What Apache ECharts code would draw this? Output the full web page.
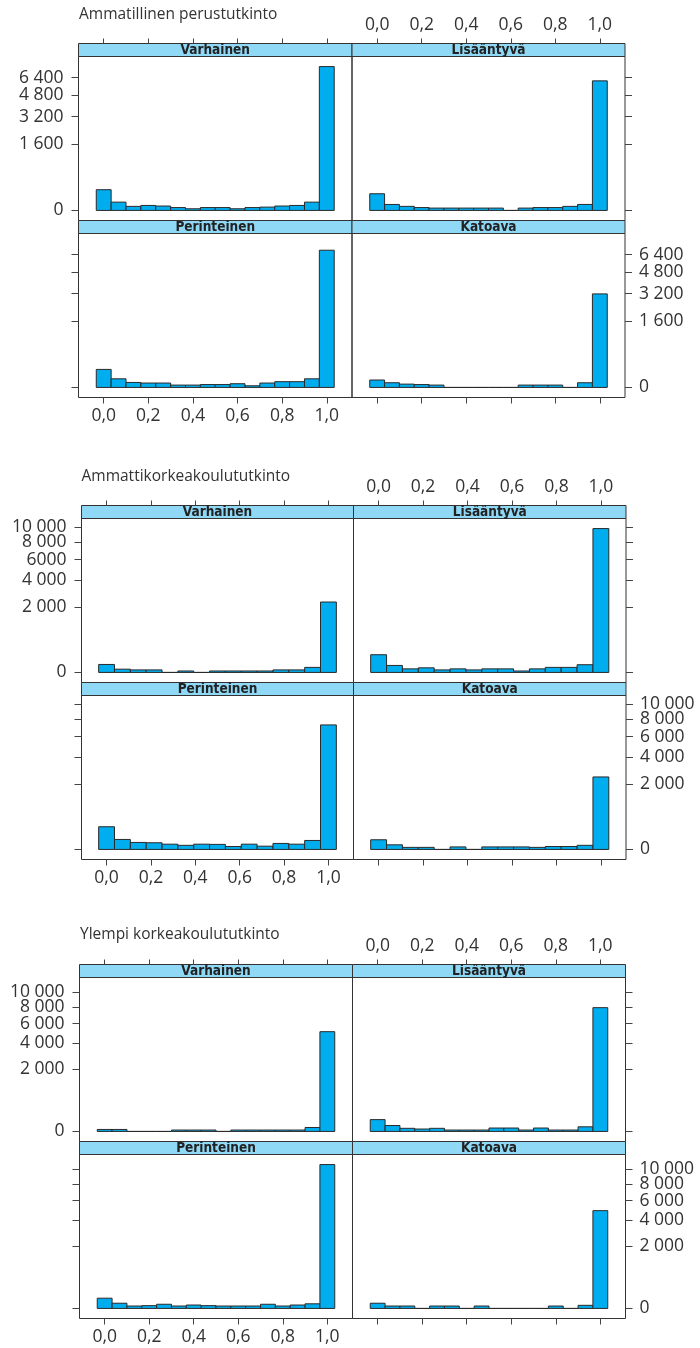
<!DOCTYPE html>
<html><head><meta charset="utf-8">
<script src="https://cdn.jsdelivr.net/npm/echarts@6/dist/echarts.min.js"></script>
<style>html,body{margin:0;padding:0;background:#fff}#c{width:700px;height:1348px}</style>
</head><body><div id="c"></div>
<script>
// ---------- DATA ----------
const groupTitles = ['Ammatillinen perustutkinto', 'Ammattikorkeakoulututkinto', 'Ylempi korkeakoulututkinto'];
const panelNames = ['Varhainen', 'Lisääntyvä', 'Perinteinen', 'Katoava'];

const xTickValues = [0, 0.2, 0.4, 0.6, 0.8, 1.0];
const xTickLabels = ['0,0', '0,2', '0,4', '0,6', '0,8', '1,0'];

// bin centres (share) and bin widths per group
const bins16 = [0, 0.0667, 0.1333, 0.2, 0.2667, 0.3333, 0.4, 0.4667, 0.5333, 0.6, 0.6667, 0.7333, 0.8, 0.8667, 0.9333, 1];
const bins15 = [0, 0.0714, 0.1429, 0.2143, 0.2857, 0.3571, 0.4286, 0.5, 0.5714, 0.6429, 0.7143, 0.7857, 0.8571, 0.9286, 1];
const binWidth16 = 0.0667;
const binWidth15 = 0.0714;

// counts — Ammatillinen perustutkinto
const amm_varhainen   = [156, 25, 6, 9, 7, 3, 1, 3, 3, 1, 3, 4, 7, 9, 25, 7520];
const amm_lisaantyva  = [101, 13, 6, 3, 2, 2, 2, 2, 2, 0, 2, 3, 3, 6, 13, 6100];
const amm_perinteinen = [118, 27, 9, 7, 7, 2, 2, 3, 3, 5, 1, 7, 12, 12, 27, 6840];
const amm_katoava     = [20, 8, 4, 3, 2, 0, 0, 0, 0, 0, 2, 2, 2, 0, 8, 3180];
// counts — Ammattikorkeakoulututkinto
const amk_varhainen   = [30, 5, 3, 3, 0, 1, 0, 1, 1, 1, 1, 3, 3, 12, 2340];
const amk_lisaantyva  = [148, 23, 6, 10, 3, 6, 3, 6, 6, 1, 6, 12, 12, 28, 9770];
const amk_perinteinen = [243, 47, 23, 21, 13, 8, 13, 12, 4, 13, 5, 17, 13, 38, 7320];
const amk_katoava     = [44, 10, 2, 2, 0, 3, 0, 3, 3, 3, 2, 4, 4, 8, 2480];
// counts — Ylempi korkeakoulututkinto
const ykk_varhainen   = [2, 2, 0, 0, 0, 1, 1, 1, 0, 1, 1, 1, 1, 1, 8, 5130];
const ykk_lisaantyva  = [72, 18, 5, 3, 5, 1, 1, 1, 6, 6, 1, 6, 1, 1, 11, 7900];
const ykk_perinteinen = [54, 14, 3, 4, 9, 3, 6, 4, 3, 3, 3, 9, 3, 6, 11, 10670];
const ykk_katoava     = [14, 3, 3, 0, 3, 3, 0, 3, 0, 0, 0, 0, 3, 0, 5, 4930];

// y tick values (counts, square-root scale) and labels
const yTicks1 = [0, 1600, 3200, 4800, 6400];
const yLabels1L = ['0', '1 600', '3 200', '4 800', '6 400'];
const yLabels1R = ['0', '1 600', '3 200', '4 800', '6 400'];
const yTicks2 = [0, 2000, 4000, 6000, 8000, 10000];
const yLabels2L = ['0', '2 000', '4 000', '6000', '8 000', '10 000'];
const yLabels2R = ['0', '2 000', '4 000', '6 000', '8 000', '10 000'];
const yTicks3 = [0, 2000, 4000, 6000, 8000, 10000];
const yLabels3L = ['0', '2 000', '4 000', '6 000', '8 000', '10 000'];
const yLabels3R = ['0', '2 000', '4 000', '6 000', '8 000', '10 000'];

// ---------- ASSEMBLY ----------
const groups = [
  { title: groupTitles[0], bins: bins16, bw: binWidth16, panels: [amm_varhainen, amm_lisaantyva, amm_perinteinen, amm_katoava], yt: yTicks1, yl: yLabels1L, yr: yLabels1R },
  { title: groupTitles[1], bins: bins15, bw: binWidth15, panels: [amk_varhainen, amk_lisaantyva, amk_perinteinen, amk_katoava], yt: yTicks2, yl: yLabels2L, yr: yLabels2R },
  { title: groupTitles[2], bins: bins16, bw: binWidth16, panels: [ykk_varhainen, ykk_lisaantyva, ykk_perinteinen, ykk_katoava], yt: yTicks3, yl: yLabels3L, yr: yLabels3R }
];

// layout (px)
const layout = [
  { titleX: 79, titleY: 15, stripTop: 43.5, L: 78.5, M: 352, R: 625 },
  { titleX: 81.5, titleY: 477, stripTop: 505.5, L: 81.5, M: 353.5, R: 626 },
  { titleX: 80, titleY: 935, stripTop: 964.5, L: 79.5, M: 352.5, R: 625.5 }
];
const STRIP_H = 13, PANEL_H = 164;
const X_MIN = -0.113, X_MAX = 1.113;
const FRAME = '#333', TICK = '#444', TEXT = '#333';
const STRIP_BG = '#8fd8f6', BAR = '#00adef', BAR_EDGE = '#2a2a2a';
const FONT = 'Open Sans';
const TICK_FS = 17.5;

const grids = [], xAxes = [], yAxes = [], series = [], graphics = [];
const yLabelJobs = [];

function xLabel(v) {
  for (let i = 0; i < xTickValues.length; i++) if (Math.abs(xTickValues[i] - v) < 1e-9) return xTickLabels[i];
  return '';
}

groups.forEach((g, gi) => {
  const lay = layout[gi];
  let mx = 0;
  g.panels.forEach(arr => arr.forEach(v => { mx = Math.max(mx, Math.sqrt(v)); }));
  const yMin = -0.07 * mx, yMax = 1.07 * mx;
  const ySqrtTicks = g.yt.map(t => Math.sqrt(t));

  graphics.push({
    type: 'text', x: lay.titleX, y: lay.titleY, z: 10,
    style: { text: g.title, fill: TEXT, fontFamily: FONT, fontSize: 15.5, align: 'left', verticalAlign: 'middle' }
  });

  g.panels.forEach((vals, p) => {
    const col = p % 2, row = Math.floor(p / 2);
    const x0 = col === 0 ? lay.L : lay.M;
    const w = col === 0 ? lay.M - lay.L : lay.R - lay.M;
    const sTop = lay.stripTop + row * (STRIP_H + PANEL_H);
    const pTop = sTop + STRIP_H;

    // strip grid
    const sg = grids.length;
    grids.push({ left: x0, top: sTop, width: w, height: STRIP_H, show: true, backgroundColor: STRIP_BG, borderColor: FRAME, borderWidth: 1, containLabel: false });
    xAxes.push({
      type: 'value', gridIndex: sg, min: X_MIN, max: X_MAX, position: 'top', show: row === 0,
      axisLine: { show: false, onZero: false }, splitLine: { show: false },
      axisTick: { show: true, length: 5, customValues: xTickValues, lineStyle: { color: TICK } },
      axisLabel: { show: col === 1, customValues: xTickValues, formatter: xLabel, margin: 9, fontFamily: FONT, fontSize: TICK_FS, color: TEXT, showMinLabel: true, showMaxLabel: true }
    });
    yAxes.push({ type: 'value', gridIndex: sg, min: 0, max: 1, show: false });
    graphics.push({
      type: 'text', x: x0 + w / 2, y: sTop + STRIP_H / 2 + 0.5, z: 10,
      style: { text: panelNames[p], fill: '#222', fontFamily: 'DejaVu Sans Condensed', fontWeight: 'bold', fontSize: 13.5, align: 'center', verticalAlign: 'middle' }
    });

    // panel grid
    const pg = grids.length;
    grids.push({ left: x0, top: pTop, width: w, height: PANEL_H, show: true, backgroundColor: 'transparent', borderColor: FRAME, borderWidth: 1, containLabel: false });
    xAxes.push({
      type: 'value', gridIndex: pg, min: X_MIN, max: X_MAX, position: 'bottom', show: row === 1,
      axisLine: { show: false, onZero: false }, splitLine: { show: false },
      axisTick: { show: true, length: 6, customValues: xTickValues, lineStyle: { color: TICK } },
      axisLabel: { show: col === 0, customValues: xTickValues, formatter: xLabel, margin: 10, fontFamily: FONT, fontSize: TICK_FS, color: TEXT, showMinLabel: true, showMaxLabel: true }
    });
    const showYLab = (row === 0 && col === 0) || (row === 1 && col === 1);
    yAxes.push({
      type: 'value', gridIndex: pg, min: yMin, max: yMax, position: col === 0 ? 'left' : 'right',
      axisLine: { show: false, onZero: false }, splitLine: { show: false },
      axisTick: { show: true, length: 7, customValues: ySqrtTicks, lineStyle: { color: TICK } },
      axisLabel: { show: false }
    });
    if (showYLab) {
      yLabelJobs.push({ axis: pg, ticks: g.yt, labels: col === 0 ? g.yl : g.yr,
        x: col === 0 ? x0 - 15 : x0 + w + 14, align: col === 0 ? 'right' : 'left' });
    }

    const half = g.bw / 2;
    series.push({
      type: 'custom', xAxisIndex: pg, yAxisIndex: pg, clip: false,
      data: g.bins.map((c, i) => [c, Math.sqrt(vals[i])]),
      renderItem: function (params, api) {
        const c = api.value(0), h = api.value(1);
        const a = api.coord([c - half, h]);
        const b = api.coord([c + half, 0]);
        return {
          type: 'rect',
          shape: { x: a[0], y: a[1], width: b[0] - a[0], height: b[1] - a[1] },
          style: { fill: BAR, stroke: BAR_EDGE, lineWidth: 1 }
        };
      }
    });
  });
});

const chart = echarts.init(document.getElementById('c'), null, { renderer: 'canvas' });
chart.setOption({
  animation: false,
  backgroundColor: '#fff',
  grid: grids, xAxis: xAxes, yAxis: yAxes, series: series,
  graphic: { elements: graphics }
});

// y tick labels placed via the axis scale (square-root positions)
const allGraphics = graphics.slice();
yLabelJobs.forEach(job => {
  job.ticks.forEach((t, i) => {
    const py = chart.convertToPixel({ yAxisIndex: job.axis }, Math.sqrt(t));
    allGraphics.push({
      type: 'text', x: job.x, y: py, z: 10,
      style: { text: job.labels[i], fill: TEXT, fontFamily: FONT, fontSize: TICK_FS, align: job.align, verticalAlign: 'middle' }
    });
  });
});
chart.setOption({ graphic: { elements: allGraphics } });
</script>
</body></html>
